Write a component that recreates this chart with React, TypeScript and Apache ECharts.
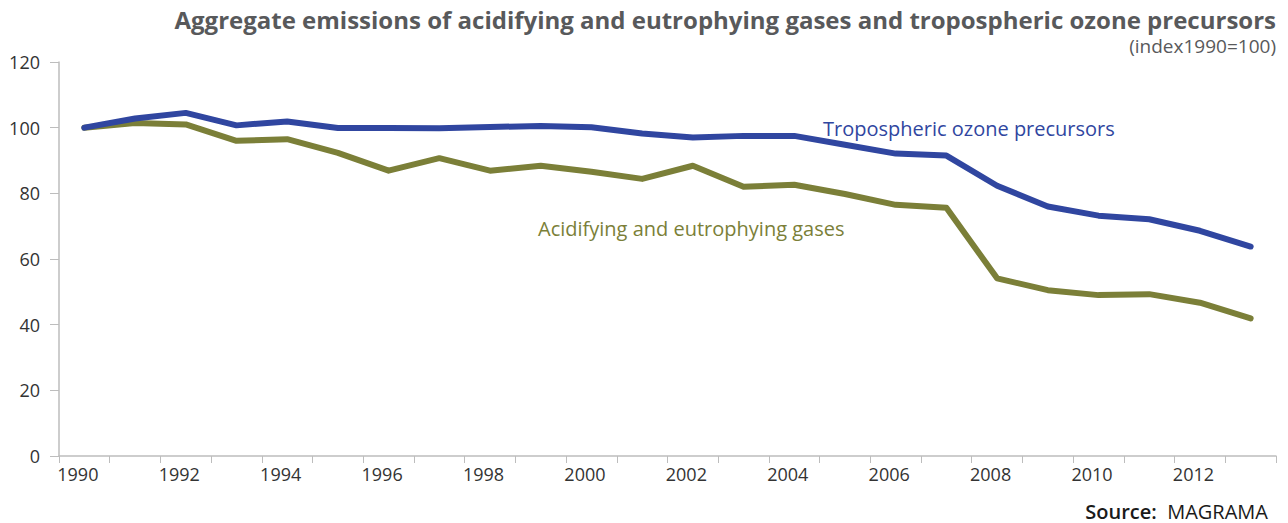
import React, { useEffect, useRef } from "react";
import * as echarts from "echarts";

const years = [
  "1990", "1991", "1992", "1993", "1994", "1995", "1996", "1997", "1998", "1999", "2000", "2001",
  "2002", "2003", "2004", "2005", "2006", "2007", "2008", "2009", "2010", "2011", "2012", "2013",
];
const ozonePrecursors = [
  100, 102.8, 104.5, 100.7, 101.9, 99.9, 99.9, 99.8, 100.2, 100.5, 100.1, 98.2,
  97.0, 97.5, 97.5, 94.8, 92.1, 91.5, 82.3, 76.0, 73.2, 72.1, 68.6, 63.8,
];
const acidifyingGases = [
  100, 101.4, 101.0, 96.0, 96.5, 92.3, 86.9, 90.7, 86.9, 88.4, 86.6, 84.4,
  88.4, 82.0, 82.6, 79.8, 76.5, 75.6, 54.1, 50.5, 49.0, 49.3, 46.7, 41.9,
];
const seriesNames = ["Tropospheric ozone precursors", "Acidifying and eutrophying gases"];
const titleText = "Aggregate emissions of acidifying and eutrophying gases and tropospheric ozone precursors";
const subtitleText = "(index1990=100)";

const FONT = "'Open Sans', 'Noto Sans', sans-serif";
const BLUE = "#3046a0";
const OLIVE = "#7b7f38";

export default function App() {
  const ref = useRef<HTMLDivElement>(null);
  useEffect(() => {
    document.body.style.margin = "0";
    const chart = echarts.init(ref.current!, null, { renderer: "svg" });
    chart.setOption({
      animation: false,
      backgroundColor: "#ffffff",
      grid: { left: 59, right: 12, top: 62, bottom: 67, containLabel: false },
      xAxis: {
        type: "category",
        data: years,
        boundaryGap: true,
        axisLine: { show: true, lineStyle: { color: "#bdbdbd", width: 1.5 } },
        axisTick: { show: true, interval: 0, length: 7, lineStyle: { color: "#bdbdbd", width: 1 } },
        axisLabel: {
          interval: 1,
          color: "#333333",
          fontFamily: FONT,
          fontSize: 18,
          margin: 9,
          padding: [0, 13, 0, 0],
        },
        splitLine: { show: false },
      },
      yAxis: {
        type: "value",
        min: 0,
        max: 120,
        interval: 20,
        axisLine: { show: true, lineStyle: { color: "#bdbdbd", width: 1.5 } },
        axisTick: { show: true, length: 9, lineStyle: { color: "#bdbdbd", width: 1 } },
        axisLabel: { color: "#333333", fontFamily: FONT, fontSize: 18, margin: 19 },
        splitLine: { show: false },
      },
      series: [
        {
          name: seriesNames[0],
          type: "line",
          data: ozonePrecursors,
          symbol: "none",
          lineStyle: { color: BLUE, width: 6, cap: "round", join: "round" },
          itemStyle: { color: BLUE },
          z: 3,
        },
        {
          name: seriesNames[1],
          type: "line",
          data: acidifyingGases,
          symbol: "none",
          lineStyle: { color: OLIVE, width: 6, cap: "round", join: "round" },
          itemStyle: { color: OLIVE },
          z: 2,
        },
      ],
      graphic: [
        {
          type: "text",
          x: 1276,
          y: 19,
          style: {
            text: titleText,
            fill: "#58595b",
            font: `bold 24px ${FONT}`,
            textAlign: "right",
            textVerticalAlign: "middle",
          },
        },
        {
          type: "text",
          x: 1276,
          y: 46,
          style: {
            text: subtitleText,
            fill: "#58595b",
            font: `19px ${FONT}`,
            textAlign: "right",
            textVerticalAlign: "middle",
          },
        },
        {
          type: "text",
          x: 823,
          y: 128,
          style: {
            text: seriesNames[0],
            fill: BLUE,
            font: `20px ${FONT}`,
            textAlign: "left",
            textVerticalAlign: "middle",
          },
        },
        {
          type: "text",
          x: 538,
          y: 228,
          style: {
            text: seriesNames[1],
            fill: OLIVE,
            font: `20px ${FONT}`,
            textAlign: "left",
            textVerticalAlign: "middle",
          },
        },
        {
          type: "text",
          x: 1268,
          y: 511,
          style: {
            text: "{b|Source:}  {r|MAGRAMA}",
            fill: "#1a1a1a",
            font: `20px ${FONT}`,
            textAlign: "right",
            textVerticalAlign: "middle",
            rich: {
              b: { fontFamily: FONT, fontSize: 20, fontWeight: 600, fill: "#1a1a1a" },
              r: { fontFamily: FONT, fontSize: 20, fontWeight: "normal", fill: "#1a1a1a" },
            },
          },
        },
      ],
    });
    return () => chart.dispose();
  }, []);
  return <div ref={ref} style={{ width: 1288, height: 523 }} />;
}
